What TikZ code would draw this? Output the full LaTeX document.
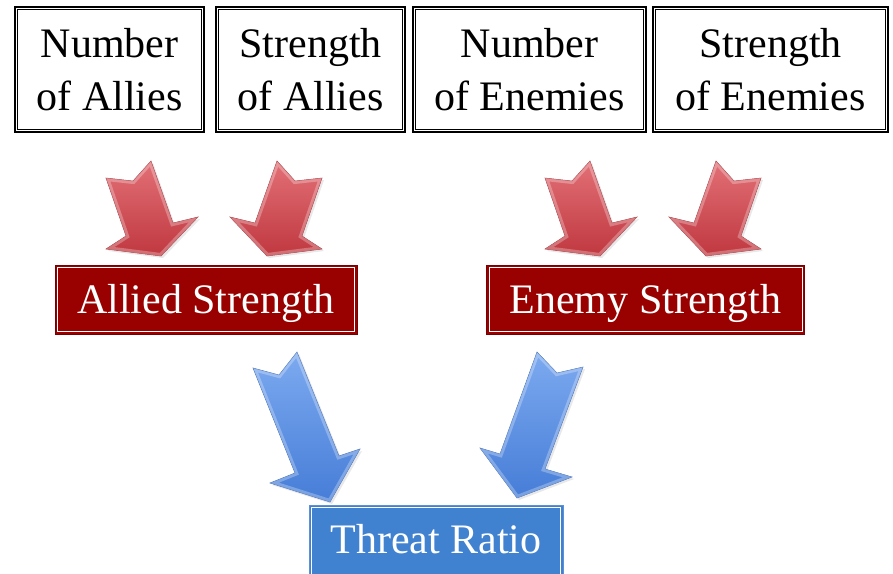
\documentclass[tikz,border=0pt]{standalone}
\usepackage{fontspec}
\setmainfont{Liberation Serif}
\usetikzlibrary{shadows}
\definecolor{boxred}{RGB}{153,0,0}
\definecolor{boxreddark}{RGB}{120,0,0}
\definecolor{boxblue}{RGB}{64,130,208}
\definecolor{boxbluedark}{RGB}{90,145,215}
\definecolor{redL}{RGB}{226,112,118}
\definecolor{redD}{RGB}{192,56,64}
\definecolor{blueL}{RGB}{125,170,240}
\definecolor{blueD}{RGB}{70,125,215}
\newcommand\myarrow[2]{%
  \shade[#1] #2;
  \begin{scope}\clip #2; \draw[white,opacity=.28,line width=6pt] #2; \end{scope}
}
\begin{document}
\begin{tikzpicture}[x=1pt,y=-1pt,
  topbox/.style={draw=black, line width=1.8pt, minimum width=#1, minimum height=125pt,
    inner sep=0pt, align=center, font=\rmfamily\fontsize{42}{53}\selectfont},
  innerline/.style={draw=black, line width=0.9pt},
  redbox/.style={fill=boxred, draw=boxreddark, line width=1pt, minimum height=69pt,
    inner sep=0pt, text=white, text height=29pt, text depth=2pt, font=\rmfamily\fontsize{42}{50}\selectfont},
  bluebox/.style={fill=boxblue, draw=boxbluedark, line width=1pt, minimum height=76pt,
    inner sep=0pt, text=white, text height=29pt, text depth=9pt, font=\rmfamily\fontsize{42}{50}\selectfont},
  whiteline/.style={draw=white, line width=0.8pt},
  redarrow/.style={top color=redL, bottom color=redD, draw=redD!85!black, line width=0.5pt,
    drop shadow={opacity=0.18, shadow xshift=2pt, shadow yshift=-2pt}},
  bluearrow/.style={top color=blueL, bottom color=blueD, draw=blueD!85!black, line width=0.5pt,
    drop shadow={opacity=0.18, shadow xshift=2pt, shadow yshift=-2pt}}
]
\useasboundingbox (0,0) rectangle (893,573);
\fill[white] (0,0) rectangle (893,573);

% top boxes
\node[topbox=189pt] (na) at (109.5,69.5) {Number\\of Allies};
\node[topbox=189pt] (sa) at (310.5,69.5) {Strength\\of Allies};
\node[topbox=233pt] (ne) at (529.5,69.5) {Number\\of Enemies};
\node[topbox=235pt] (se) at (770.5,69.5) {Strength\\of Enemies};
\foreach \n in {na,sa,ne,se}{
  \draw[innerline] ([xshift=3.6pt,yshift=-3.6pt]\n.north west) rectangle ([xshift=-3.6pt,yshift=3.6pt]\n.south east);
}

% result boxes
\node[redbox, minimum width=302pt] (as) at (206,299.5) {Allied Strength};
\node[redbox, minimum width=318pt] (es) at (645.5,299.5) {Enemy Strength};
\node[bluebox, minimum width=254pt] (tr) at (436,543) {Threat Ratio};
\foreach \n in {as,es,tr}{
  \draw[whiteline] ([xshift=3pt,yshift=-3pt]\n.north west) rectangle ([xshift=-3pt,yshift=3pt]\n.south east);
}

% red arrows
\myarrow{redarrow}{(106,178) -- (133,181) -- (151,161) -- (173,223) -- (198,217) -- (161,256) -- (106,249) -- (126,236) -- cycle}
\begin{scope}[shift={(428,0)},xscale=-1]
\myarrow{redarrow}{(106,178) -- (133,181) -- (151,161) -- (173,223) -- (198,217) -- (161,256) -- (106,249) -- (126,236) -- cycle}
\end{scope}
\begin{scope}[shift={(439,0)}]
\myarrow{redarrow}{(106,178) -- (133,181) -- (151,161) -- (173,223) -- (198,217) -- (161,256) -- (106,249) -- (126,236) -- cycle}
\end{scope}
\begin{scope}[shift={(867,0)},xscale=-1]
\myarrow{redarrow}{(106,178) -- (133,181) -- (151,161) -- (173,223) -- (198,217) -- (161,256) -- (106,249) -- (126,236) -- cycle}
\end{scope}

% blue arrows
\myarrow{bluearrow}{(253,368) -- (279,375) -- (297,352) -- (339,456) -- (360,449) -- (330,502) -- (270,483) -- (295,473) -- cycle}
\myarrow{bluearrow}{(537,352) -- (557,373) -- (583,367) -- (545,469) -- (572,477) -- (517,498) -- (480,448) -- (500,454) -- cycle}
\end{tikzpicture}
\end{document}
